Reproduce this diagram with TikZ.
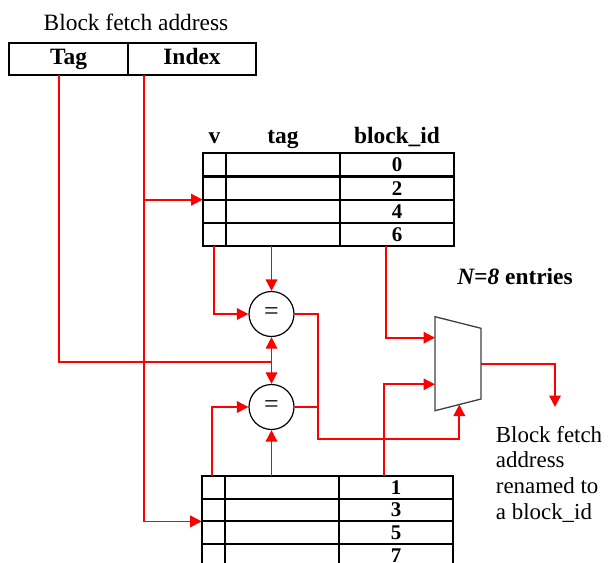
\documentclass[tikz,border=0pt]{standalone}
\usepackage{fontspec}
\setmainfont{Liberation Serif}
\usetikzlibrary{positioning,arrows.meta}

\begin{document}
\begin{tikzpicture}[x=1bp,y=-1bp,
  every node/.style={font=\fontsize{23.5}{26}\selectfont},
  field/.style={draw,line width=2bp,minimum height=32bp,inner sep=0,outer sep=0,
    text height=16bp,text depth=5bp,font=\fontsize{23.5}{26}\selectfont\bfseries},
  cell/.style={draw,line width=2bp,minimum height=23.2bp,inner sep=0,outer sep=0,
    font=\fontsize{21}{24}\selectfont\bfseries},
  hdr/.style={anchor=base,font=\fontsize{23.5}{26}\selectfont\bfseries},
  cmp/.style={draw,circle,line width=1.2bp,minimum size=45bp,inner sep=0},
  wire/.style={red,line width=1.8bp},
  feed/.style={wire,-{Triangle[length=11.5bp,width=11.5bp]}}]
  \useasboundingbox (0,0) rectangle (608,563);
  \clip (0,0) rectangle (608,563);

  % fetch address
  \node[anchor=base] (title) at (136,30.5) {Block fetch address};
  \node[field,minimum width=119bp] (tagf) at (68.5,59) {Tag};
  \node[field,minimum width=128bp,right=0pt of tagf] (idxf) {Index};

  % top table (even block_ids)
  \foreach \i/\n in {1/0,2/2,3/4,4/6} {
    \node[cell,minimum width=23.3bp] (tv\i) at (214.35,{164.9+23.2*(\i-1)}) {};
    \node[cell,minimum width=114bp,right=0pt of tv\i] (tt\i) {};
    \node[cell,minimum width=114bp,right=0pt of tt\i] (tb\i) {\n};
  }
  \node[hdr] (hv) at (tv1.center |- 0,143.5) {v};
  \node[hdr] (ht) at (tt1.center |- 0,143.5) {tag};
  \node[hdr] (hb) at (tb1.center |- 0,143.5) {block\_id};

  % bottom table (odd block_ids)
  \foreach \i/\n in {1/1,2/3,3/5,4/7} {
    \node[cell,minimum width=23.3bp,minimum height=22.7bp] (bv\i) at (213.35,{487.35+22.7*(\i-1)}) {};
    \node[cell,minimum width=114bp,minimum height=22.7bp,right=0pt of bv\i] (bt\i) {};
    \node[cell,minimum width=114bp,minimum height=22.7bp,right=0pt of bt\i] (bb\i) {\n};
  }

  % comparators
  \node[cmp] (cmp1) at (271.5,314) {\fontsize{26}{26}\selectfont =};
  \node[cmp] (cmp2) at (271.5,407) {\fontsize{26}{26}\selectfont =};

  % mux
  \draw[line width=1.3bp,black!75] (435,316.7) -- (481,328.3) -- (481,399) -- (435,410.7) -- cycle;
  \coordinate (muxa) at (435,337.7);
  \coordinate (muxb) at (435,384.3);
  \coordinate (muxs) at (459.3,404.5);
  \coordinate (muxo) at (481,363.7);
  \coordinate (outend) at (555,407);

  % tag and index
  \coordinate (tagt) at ([xshift=-9.5bp]tagf.south);
  \coordinate (idxt) at ([xshift=-48bp]idxf.south);
  \coordinate (tagj) at (cmp1.south |- 0,362);
  \draw[wire] (tagt) |- (tagj);
  \draw[feed] (tagj) -- (cmp1.south);
  \draw[feed] (tagj) -- (cmp2.north);
  \draw[feed] (idxt) |- (bv2.south west);
  \draw[feed] (idxt |- tv2.south west) -- (tv2.south west);

  % table outputs
  \draw[feed] (tv4.south) |- (cmp1.west);
  \draw[feed] (tt4.south -| cmp1.north) -- (cmp1.north);
  \draw[feed] ([xshift=-11bp]tb4.south) |- (muxa);
  \draw[feed] ([xshift=-1bp]bv1.north) |- (cmp2.west);
  \draw[feed] (bt1.north -| cmp2.south) -- (cmp2.south);
  \draw[feed] ([xshift=-12bp]bb1.north) |- (muxb);

  % select and output
  \coordinate (orj) at (318,439);
  \draw[wire] (cmp2.east) -| (orj);
  \draw[feed] (cmp1.east) -| (orj) -| (muxs);
  \draw[feed] (muxo) -| (outend);

  % labels
  \node[anchor=base] (nent) at (515,284.3) {\textbf{\textit{N=8} entries}};
  \node[align=left,anchor=north west,inner sep=0,font=\fontsize{23}{25.7}\selectfont] (note)
    at (495.7,426) {Block fetch\\address\\renamed to\\a block\_id};
\end{tikzpicture}
\end{document}
